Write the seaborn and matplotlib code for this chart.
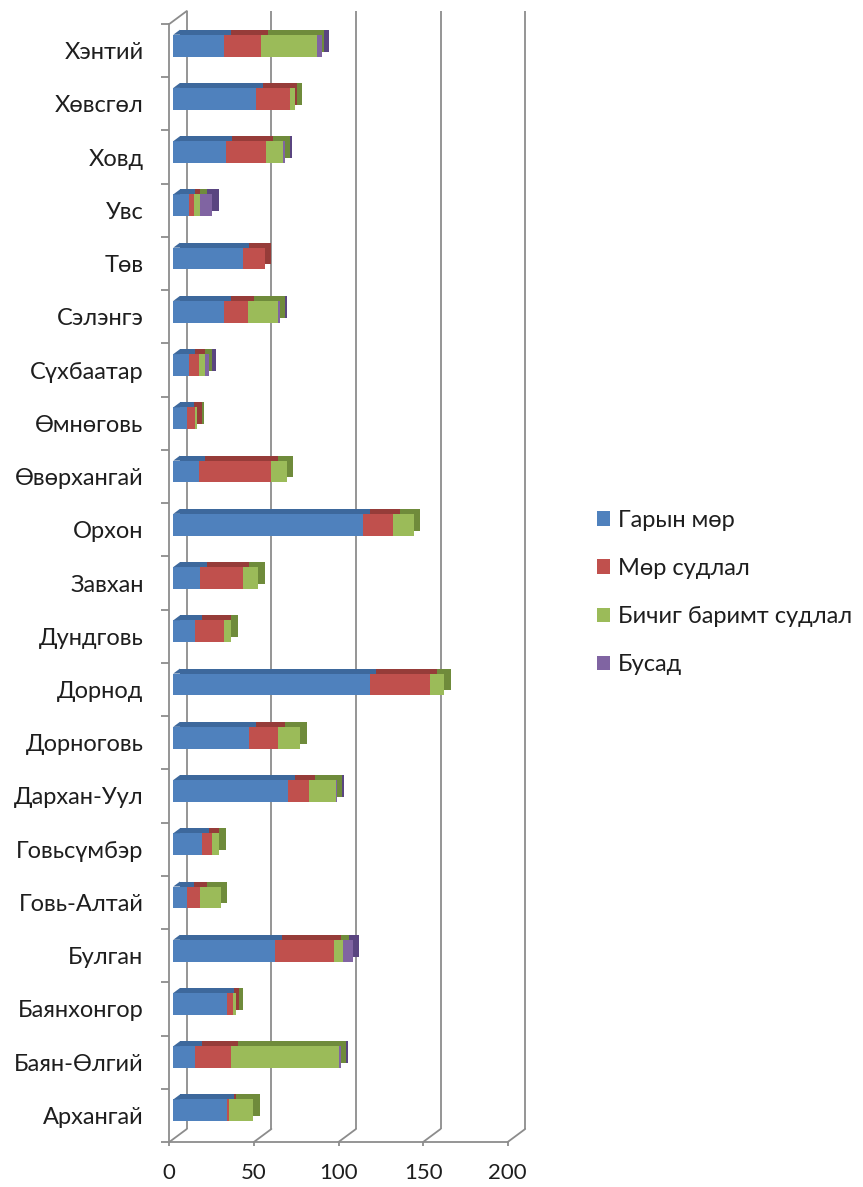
import numpy as np
import pandas as pd
import matplotlib
matplotlib.use("Agg")
import matplotlib.pyplot as plt
import seaborn as sns
from matplotlib.transforms import ScaledTranslation, blended_transform_factory
from matplotlib.patches import Patch, Polygon
from matplotlib.lines import Line2D

# ---------------- data ----------------
categories = ['Хэнтий', 'Хөвсгөл', 'Ховд', 'Увс', 'Төв', 'Сэлэнгэ', 'Сүхбаатар',
              'Өмнөговь', 'Өвөрхангай', 'Орхон', 'Завхан', 'Дундговь', 'Дорнод',
              'Дорноговь', 'Дархан-Уул', 'Говьсүмбэр', 'Говь-Алтай', 'Булган',
              'Баянхонгор', 'Баян-Өлгий', 'Архангай']
garyn_mor = [30, 49, 31, 9, 41, 30, 9, 8, 15, 112, 16, 13, 116, 45, 68, 17, 8, 60, 32, 13, 32]
mor_sudlal = [22, 20, 24, 3, 13, 14, 6, 5, 43, 18, 25, 17, 36, 17, 12, 6, 8, 35, 3, 21, 1]
bichig_barimt = [33, 3, 10, 4, 0, 18, 4, 1, 9, 12, 9, 4, 8, 13, 16, 4, 12, 5, 2, 64, 14]
busad = [3, 0, 1, 7, 0, 1, 2, 0, 0, 0, 0, 0, 0, 0, 1, 0, 0, 6, 0, 1, 0]
series_names = ['Гарын мөр', 'Мөр судлал', 'Бичиг баримт судлал', 'Бусад']
x_ticks = [0, 50, 100, 150, 200]

# ---------------- style ----------------
colors = ['#4F81BD', '#C0504D', '#9BBB59', '#8064A2']
dark = ['#3D689C', '#963C39', '#6F8B3B', '#5A4580']
grid_col = '#8C8C8C'
text_col = '#1E1E1E'

sns.set_theme(style='white')
plt.rcParams['font.family'] = ['Lato', 'Open Sans', 'DejaVu Sans']

W, H, DPI = 863, 1187, 100
fig = plt.figure(figsize=(W / DPI, H / DPI), dpi=DPI)
ax = fig.add_axes([169.3 / W, 45 / H, (507.7 - 169.3) / W, 1118 / H])


def off(dx, dy):
    return ScaledTranslation(dx / DPI, dy / DPI, fig.dpi_scale_trans)


df = pd.DataFrame({'cat': categories, 's0': garyn_mor, 's1': mor_sudlal,
                   's2': bichig_barimt, 's3': busad})
vals = df[['s0', 's1', 's2', 's3']].to_numpy().T
cum = np.cumsum(vals, axis=0)
df[['c0', 'c1', 'c2', 'c3']] = cum.T

bar_w = 0.41
front_off = (4, 5)
depth = (6.7, 5)

# shadows (top faces + end caps), then front faces
for layer in ('shadow', 'front'):
    for k in (3, 2, 1, 0):
        n0 = len(ax.patches)
        sns.barplot(data=df, x=f'c{k}', y='cat', order=categories, orient='h',
                    color=(dark[k] if layer == 'shadow' else colors[k]),
                    saturation=1, width=bar_w, ax=ax, linewidth=0, edgecolor='none')
        if layer == 'shadow':
            tr = ax.transData + off(front_off[0] + depth[0], front_off[1] + depth[1])
            z = 2
        else:
            tr = ax.transData + off(*front_off)
            z = 3
        for p in ax.patches[n0:]:
            p.set_transform(tr)
            p.set_zorder(z)
            p.set_clip_on(False)

ax.set_xlim(0, 200)
ax.set_ylim(len(categories) - 0.5, -0.5)
ax.set_xlabel('')
ax.set_ylabel('')
ax.set_facecolor('none')

# back-wall gridlines
back = (17.5, 13)
gtr = blended_transform_factory(ax.transData, ax.transAxes) + off(*back)
ax.vlines(x_ticks, 0, 1, transform=gtr, colors=grid_col, linewidth=1.3, clip_on=False, zorder=1)

# spines
for s in ('top', 'right'):
    ax.spines[s].set_visible(False)
for s in ('left', 'bottom'):
    ax.spines[s].set_color(grid_col)
    ax.spines[s].set_linewidth(1.3)

# x ticks
ax.set_xticks(x_ticks)
ax.set_xticklabels([str(t) for t in x_ticks])
ax.tick_params(axis='x', which='major', direction='out', length=3, width=1.3,
               color=grid_col, pad=12, labelsize=16, labelcolor=text_col, bottom=True)

# y ticks: labels at centers, marks at boundaries
ax.set_yticks(range(len(categories)))
ax.set_yticklabels(categories)
ax.set_yticks(np.arange(-0.5, len(categories), 1), minor=True)
ax.tick_params(axis='y', which='major', length=0, pad=18.5, labelsize=17,
               labelcolor=text_col, left=True)
ax.tick_params(axis='y', which='minor', direction='out', length=6, width=1.3,
               color=grid_col, left=True)

# floor / wall diagonals and top-face corner triangles (derived from values)
fig.canvas.draw()
to_disp = ax.transData
y_front = ax.transAxes.transform((0, 0))[1]
y_top = ax.transAxes.transform((0, 1))[1]
for t in x_ticks:
    xd = to_disp.transform((t, 0))[0]
    fig.add_artist(Line2D([xd, xd + back[0]], [y_front, y_front + back[1]],
                          transform=None, color=grid_col, linewidth=1.3))
x0 = to_disp.transform((x_ticks[0], 0))[0]
fig.add_artist(Line2D([x0, x0 + back[0]], [y_top, y_top + back[1]],
                      transform=None, color=grid_col, linewidth=1.3))

# fill the slanted start of each top face with the first series' dark colour
for i in range(len(categories)):
    xa, ya = to_disp.transform((0, i - bar_w / 2))
    xa += front_off[0]
    ya += front_off[1]
    tri = Polygon([(xa, ya), (xa + depth[0], ya + depth[1]), (xa + depth[0], ya)],
                  closed=True, transform=None, facecolor=dark[0], edgecolor='none',
                  zorder=2)
    fig.add_artist(tri)

# legend
handles = [Patch(facecolor=c, edgecolor='none') for c in colors]
fig.legend(handles, series_names, loc='center left',
           bbox_to_anchor=(597 / W, 1 - 592.5 / H), frameon=False,
           fontsize=17, handlelength=0.56, handleheight=0.56,
           handletextpad=0.34, labelspacing=1.15, borderpad=0, borderaxespad=0,
           labelcolor=text_col)

fig.savefig('out.png', dpi=DPI)
